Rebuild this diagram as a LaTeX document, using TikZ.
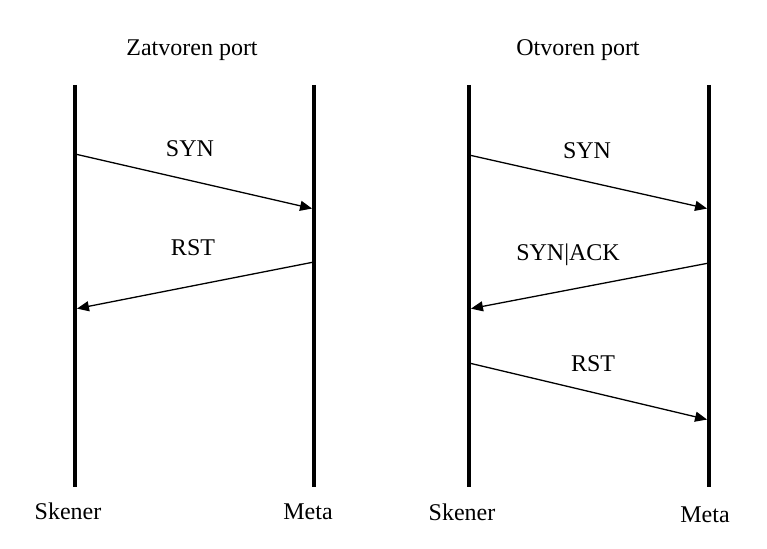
\documentclass[tikz,border=0pt]{standalone}
\usepackage{fontspec}
\setmainfont{Liberation Serif}
\usetikzlibrary{arrows.meta,positioning}
\tikzset{
  lifeline/.style={line width=4.5pt, draw=black},
  msg/.style={-{Triangle[length=12pt,width=10pt]}, line width=1.3pt, shorten >=2pt},
  tag/.style={font=\fontsize{24}{28}\selectfont, inner sep=0pt}
}

\begin{document}
\begin{tikzpicture}[x=1pt,y=-1pt]
  \useasboundingbox (0,0) rectangle (767,548);

  % zatvoren port
  \node[tag] (closed) at (192,50) {Zatvoren port};
  \coordinate (cs top) at (75,85);
  \coordinate (cs bot) at (75,487);
  \coordinate (cm top) at (314,85);
  \coordinate (cm bot) at (314,487);
  \draw[lifeline] (cs top) -- (cs bot);
  \draw[lifeline] (cm top) -- (cm bot);
  \node[tag] (cs name) at (68,511) {Skener};
  \node[tag] (cm name) at (308,512) {Meta};

  \coordinate (cs1) at (75,154);
  \coordinate (cm1) at (314,209);
  \coordinate (cm2) at (314,262);
  \coordinate (cs2) at (75,309);
  \draw[msg] (cs1) -- (cm1);
  \draw[msg] (cm2) -- (cs2);
  \node[tag] (c syn) at (190,149) {SYN};
  \node[tag] (c rst) at (193,248) {RST};

  % otvoren port
  \node[tag] (open) at (578,50) {Otvoren port};
  \coordinate (os top) at (469,85);
  \coordinate (os bot) at (469,487);
  \coordinate (om top) at (709,85);
  \coordinate (om bot) at (709,487);
  \draw[lifeline] (os top) -- (os bot);
  \draw[lifeline] (om top) -- (om bot);
  \node[tag] (os name) at (462,512) {Skener};
  \node[tag] (om name) at (705,515) {Meta};

  \coordinate (os1) at (469,155);
  \coordinate (om1) at (709,209);
  \coordinate (om2) at (709,263);
  \coordinate (os2) at (469,309);
  \coordinate (os3) at (469,363);
  \coordinate (om3) at (709,420);
  \draw[msg] (os1) -- (om1);
  \draw[msg] (om2) -- (os2);
  \draw[msg] (os3) -- (om3);
  \node[tag] (o syn) at (587,151) {SYN};
  \node[tag] (o synack) at (568,255) {SYN|ACK};
  \node[tag] (o rst) at (593,364) {RST};
\end{tikzpicture}
\end{document}
